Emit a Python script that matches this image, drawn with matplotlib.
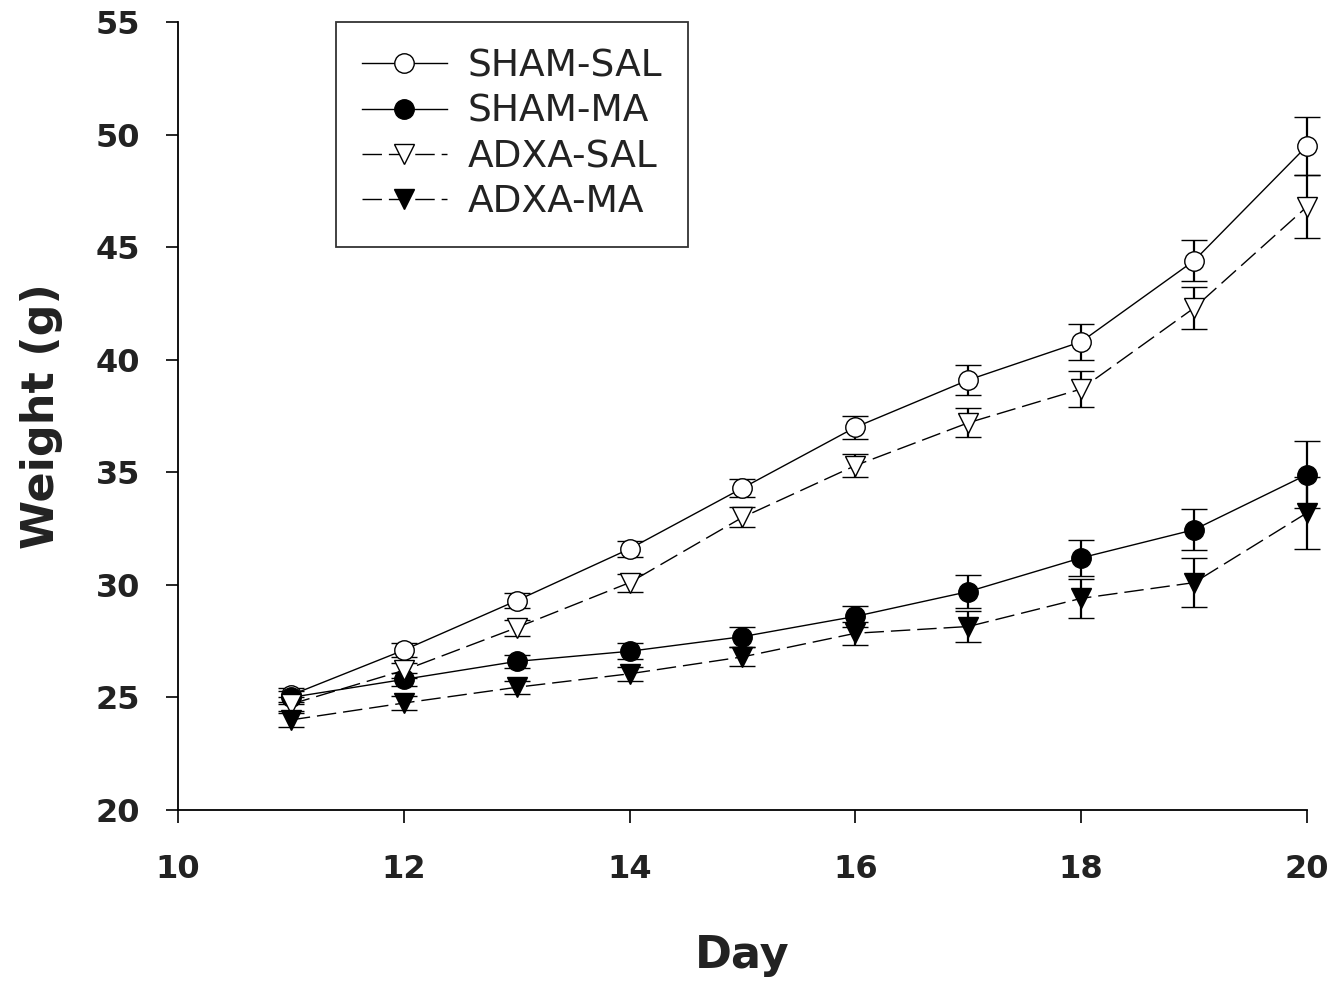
import numpy as np
import matplotlib.pyplot as plt

# days and group means (g) with SEM
days = [11, 12, 13, 14, 15, 16, 17, 18, 19, 20]

sham_sal = [25.1, 27.1, 29.3, 31.6, 34.3, 37.0, 39.1, 40.8, 44.4, 49.5]
sham_sal_err = [0.3, 0.3, 0.35, 0.35, 0.4, 0.52, 0.65, 0.8, 0.9, 1.3]

sham_ma = [25.0, 25.8, 26.6, 27.05, 27.7, 28.6, 29.7, 31.2, 32.45, 34.9]
sham_ma_err = [0.3, 0.3, 0.3, 0.35, 0.45, 0.48, 0.72, 0.8, 0.9, 1.5]

adxa_sal = [24.7, 26.2, 28.1, 30.1, 33.0, 35.3, 37.2, 38.7, 42.3, 46.8]
adxa_sal_err = [0.3, 0.35, 0.35, 0.4, 0.45, 0.52, 0.65, 0.8, 0.95, 1.4]

adxa_ma = [24.0, 24.75, 25.45, 26.05, 26.8, 27.85, 28.15, 29.4, 30.1, 33.2]
adxa_ma_err = [0.3, 0.3, 0.3, 0.3, 0.42, 0.5, 0.68, 0.85, 1.1, 1.6]

xticks = [10, 12, 14, 16, 18, 20]
yticks = [20, 25, 30, 35, 40, 45, 50, 55]

if __name__ == '__main__':
    plt.rcParams['font.family'] = 'DejaVu Sans'

    fig = plt.figure(figsize=(13.44, 9.83), dpi=100)
    ax = fig.add_axes([0.1324, 0.176, 0.8401, 0.8016])

    common = dict(color='k', ecolor='k', linewidth=1.0, elinewidth=1.6,
                  capsize=9.3, capthick=1.8, markersize=14, markeredgewidth=1.0,
                  markeredgecolor='k')
    dash = (0, (14, 5))

    series = [
        (sham_sal, sham_sal_err, 'o', '-', 'white', 'SHAM-SAL'),
        (sham_ma, sham_ma_err, 'o', '-', 'k', 'SHAM-MA'),
        (adxa_sal, adxa_sal_err, 'v', dash, 'white', 'ADXA-SAL'),
        (adxa_ma, adxa_ma_err, 'v', dash, 'k', 'ADXA-MA'),
    ]
    for y, err, mk, ls, fc, name in series:
        cont = ax.errorbar(days, y, yerr=err, fmt=mk, linestyle=ls,
                           markerfacecolor=fc, label=name, **common)
        cont[0].set_clip_on(False)
        for art in cont[1] + cont[2]:
            art.set_clip_on(False)

    ax.set_xlim(10, 20)
    ax.set_ylim(20, 55)
    ax.set_xticks(xticks)
    ax.set_yticks(yticks)

    for side in ['top', 'right']:
        ax.spines[side].set_visible(False)
    for side in ['left', 'bottom']:
        ax.spines[side].set_linewidth(1.3)
    ax.tick_params(direction='out', length=9, width=1.2, labelsize=23)
    ax.tick_params(axis='x', pad=23)
    ax.tick_params(axis='y', pad=18)
    for lbl in ax.get_xticklabels() + ax.get_yticklabels():
        lbl.set_fontweight('bold')
        lbl.set_color('#222222')

    ax.set_xlabel('Day', fontsize=32, fontweight='bold', labelpad=35, color='#222222')
    ax.set_ylabel('Weight (g)', fontsize=32, fontweight='bold', labelpad=24, color='#222222')

    handles, labels = ax.get_legend_handles_labels()
    handles = [h[0] for h in handles]
    leg = ax.legend(handles, labels, loc='upper left', bbox_to_anchor=(0.14, 1.0),
                    borderaxespad=0, fontsize=27, frameon=True, fancybox=False,
                    edgecolor='k', handlelength=2.25, handletextpad=0.55,
                    labelspacing=0.25, borderpad=0.7, markerscale=1.0)
    leg.get_frame().set_linewidth(1.3)
    for t in leg.get_texts():
        t.set_color('#222222')

    plt.savefig('out.png', dpi=100)
